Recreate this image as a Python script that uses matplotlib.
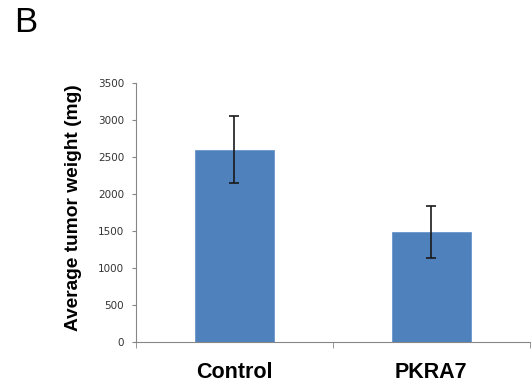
import matplotlib
matplotlib.use('Agg')
import matplotlib.pyplot as plt

# tumor weight data
groups = ['Control', 'PKRA7']
weights = [2600, 1490]
errors = [450, 355]
yticks = [0, 500, 1000, 1500, 2000, 2500, 3000, 3500]

plt.rcParams['font.family'] = ['Liberation Sans', 'DejaVu Sans']

fig = plt.figure(figsize=(5.32, 3.9), dpi=100)
ax = fig.add_axes([0.2556, 0.123, 0.74, 0.664])

pos = list(range(len(groups)))
ax.bar(pos, weights, width=0.4, color='#4F81BD', edgecolor='#6A95CB', linewidth=0.6)
ax.errorbar(pos, weights, yerr=errors, fmt='none', ecolor='#1a1a1a',
            elinewidth=1.2, capsize=3.5, capthick=1.2)

ax.set_xlim(-0.5, 1.5)
ax.set_ylim(0, 3500)
ax.set_yticks(yticks)
ax.set_yticklabels([str(v) for v in yticks], fontsize=7.5, color='#333333',
                   family='DejaVu Sans')
ax.set_xticks(pos)
ax.set_xticklabels(groups, fontsize=15.5, fontweight='bold')
ax.set_xticks([-0.5, 0.5, 1.5], minor=True)
ax.tick_params(axis='x', which='major', length=0, pad=14.5)
ax.tick_params(axis='x', which='minor', length=4, color='#868686', direction='out')
ax.tick_params(axis='y', length=3, color='#868686', pad=5.5)

for s in ['top', 'right']:
    ax.spines[s].set_visible(False)
for s in ['left', 'bottom']:
    ax.spines[s].set_color('#868686')
    ax.spines[s].set_linewidth(0.8)

# y label placed by hand to match the original spacing
fig.text(74 / 532, 1 - 207.5 / 390, 'Average tumor weight (mg)', rotation=90,
         fontsize=13.8, fontweight='bold', ha='center', va='center')

fig.text(0.026, 0.985, 'B', fontsize=25, va='top', ha='left')

fig.savefig('out.png', dpi=100)
